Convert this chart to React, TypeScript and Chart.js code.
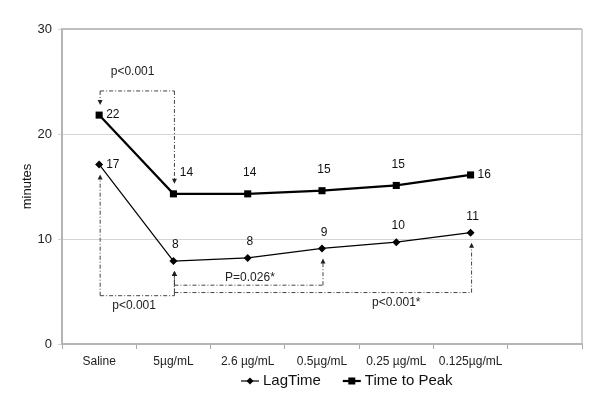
import React, { useEffect, useRef } from 'react';
import { Chart, registerables } from 'chart.js';

Chart.register(...registerables);

const FONT = '"Liberation Sans", Arial, sans-serif';

const categories = ['Saline', '5µg/mL', '2.6 µg/mL', '0.5µg/mL', '0.25 µg/mL', '0.125µg/mL', ''];
const lagTime: (number | null)[] = [17.1, 7.9, 8.2, 9.1, 9.7, 10.6, null];
const timeToPeak: (number | null)[] = [21.8, 14.3, 14.3, 14.6, 15.1, 16.1, null];
const yTicks = [0, 10, 20, 30];
const seriesNames = ['LagTime', 'Time to Peak'];
const yTitle = 'minutes';

// significance brackets
const bracketLabels = ['p<0.001', 'p<0.001', 'P=0.026*', 'p<0.001*'];
const bracketFrom = [0, 0, 1, 1];
const bracketTo = [1, 1, 3, 5];
const bracketLevel = [24.1, 4.6, 5.6, 4.9];
const bracketSeries = [1, 0, 0, 0];
const bracketLabelAt = [0.45, 0.47, 2.03, 4.0];
const bracketLabelSide = ['above', 'below', 'above', 'below'];

// data label placement
const lagPlace = ['right', 'above', 'above', 'above', 'above', 'above'];
const ttpPlace = ['right', 'aboveRight', 'above', 'above', 'above', 'right'];

function arrowHead(ctx: CanvasRenderingContext2D, x: number, y: number, dir: number) {
  // dir: 1 = pointing down, -1 = pointing up
  ctx.beginPath();
  ctx.moveTo(x, y);
  ctx.lineTo(x - 2.5, y - dir * 5);
  ctx.lineTo(x + 2.5, y - dir * 5);
  ctx.closePath();
  ctx.fill();
}

const overlay = {
  id: 'overlay',
  beforeDatasetsDraw(chart: any) {
    const ctx: CanvasRenderingContext2D = chart.ctx;
    const a = chart.chartArea;
    const xs = chart.scales.x;
    const ys = chart.scales.y;
    ctx.save();
    // top and right frame
    ctx.strokeStyle = '#c0c0c0';
    ctx.lineWidth = 2;
    ctx.beginPath();
    ctx.moveTo(a.left, a.top);
    ctx.lineTo(a.right, a.top);
    ctx.stroke();
    ctx.lineWidth = 1.5;
    ctx.beginPath();
    ctx.moveTo(a.right, a.top);
    ctx.lineTo(a.right, a.bottom);
    ctx.stroke();

    // brackets
    const series = [lagTime, timeToPeak];
    ctx.strokeStyle = '#444';
    ctx.fillStyle = '#222';
    ctx.lineWidth = 1;
    for (let i = 0; i < bracketLabels.length; i++) {
      const yl = ys.getPixelForValue(bracketLevel[i]);
      const data = series[bracketSeries[i]];
      const ends = [bracketFrom[i], bracketTo[i]];
      ctx.setLineDash([4, 2, 1, 2]);
      ctx.beginPath();
      const x1 = xs.getPixelForValue(ends[0]) + 1;
      const x2 = xs.getPixelForValue(ends[1]) + 1;
      ctx.moveTo(x1, yl);
      ctx.lineTo(x2, yl);
      ctx.stroke();
      for (const e of ends) {
        const x = xs.getPixelForValue(e) + 1;
        const py = ys.getPixelForValue(data[e] as number);
        const dir = yl < py ? 1 : -1;
        const tip = py - dir * 10;
        ctx.setLineDash([4, 2, 1, 2]);
        ctx.beginPath();
        ctx.moveTo(x, yl);
        ctx.lineTo(x, tip - dir * 4);
        ctx.stroke();
        ctx.setLineDash([]);
        arrowHead(ctx, x, tip, dir);
      }
      ctx.setLineDash([]);
      ctx.font = `12px ${FONT}`;
      ctx.textAlign = 'center';
      ctx.textBaseline = 'middle';
      const lx = xs.getPixelForValue(bracketLabelAt[i]);
      const ly = bracketLabelSide[i] === 'above' ? yl - (bracketLevel[i] > 15 ? 19 : 8) : yl + 10;
      ctx.fillText(bracketLabels[i], lx, ly);
    }
    ctx.restore();
  },
  afterDraw(chart: any) {
    const ctx: CanvasRenderingContext2D = chart.ctx;
    const a = chart.chartArea;
    const xs = chart.scales.x;
    const ys = chart.scales.y;
    ctx.save();
    ctx.fillStyle = '#111';
    ctx.font = `12px ${FONT}`;
    const drawLabels = (data: (number | null)[], place: string[], up: number) => {
      data.forEach((v, i) => {
        if (v == null) return;
        const x = xs.getPixelForValue(i);
        const y = ys.getPixelForValue(v);
        const txt = String(Math.round(v));
        ctx.textBaseline = 'middle';
        if (place[i] === 'right') {
          ctx.textAlign = 'left';
          ctx.fillText(txt, x + 7, y);
        } else if (place[i] === 'aboveRight') {
          ctx.textAlign = 'center';
          ctx.fillText(txt, x + 13, y - up);
        } else {
          ctx.textAlign = 'center';
          ctx.fillText(txt, x + 2, y - up);
        }
      });
    };
    drawLabels(lagTime, lagPlace, 16);
    drawLabels(timeToPeak, ttpPlace, 21);

    // y title
    ctx.save();
    ctx.translate(27, (a.top + a.bottom) / 2);
    ctx.rotate(-Math.PI / 2);
    ctx.textAlign = 'center';
    ctx.textBaseline = 'middle';
    ctx.font = `13px ${FONT}`;
    ctx.fillStyle = '#111';
    ctx.fillText(yTitle, 0, 0);
    ctx.restore();

    // legend
    ctx.font = `15px ${FONT}`;
    ctx.textAlign = 'left';
    ctx.textBaseline = 'middle';
    const ly = 381;
    let lx = 241;
    const styles = ['rectRot', 'rect'];
    const widths = [1.2, 2.2];
    seriesNames.forEach((name, i) => {
      ctx.strokeStyle = '#000';
      ctx.fillStyle = '#000';
      ctx.lineWidth = widths[i];
      ctx.beginPath();
      ctx.moveTo(lx, ly);
      ctx.lineTo(lx + 18, ly);
      ctx.stroke();
      if (styles[i] === 'rect') {
        ctx.fillRect(lx + 9 - 3.5, ly - 3.5, 7, 7);
      } else {
        ctx.beginPath();
        ctx.moveTo(lx + 9, ly - 3.5);
        ctx.lineTo(lx + 12.5, ly);
        ctx.lineTo(lx + 9, ly + 3.5);
        ctx.lineTo(lx + 5.5, ly);
        ctx.closePath();
        ctx.fill();
      }
      ctx.fillStyle = '#111';
      ctx.fillText(name, lx + 22, ly);
      lx += 22 + ctx.measureText(name).width + 22;
    });
    ctx.restore();
  },
};

export default function App() {
  const ref = useRef<HTMLCanvasElement>(null);
  useEffect(() => {
    document.body.style.margin = '0';
    const chart = new Chart(ref.current as HTMLCanvasElement, {
      type: 'line',
      data: {
        labels: categories,
        datasets: [
          {
            label: seriesNames[0],
            data: lagTime,
            borderColor: '#000',
            backgroundColor: '#000',
            borderWidth: 1.2,
            pointStyle: 'rectRot',
            pointRadius: 4,
            pointBorderWidth: 0,
            tension: 0,
          },
          {
            label: seriesNames[1],
            data: timeToPeak,
            borderColor: '#000',
            backgroundColor: '#000',
            borderWidth: 2.2,
            pointStyle: 'rect',
            pointRadius: 5,
            pointBorderWidth: 0,
            tension: 0,
          },
        ],
      },
      options: {
        responsive: false,
        animation: false,
        devicePixelRatio: 1,
        layout: { padding: { top: 29, right: 18, left: 0, bottom: 0 } },
        plugins: { legend: { display: false }, tooltip: { enabled: false } },
        scales: {
          x: {
            type: 'category',
            offset: true,
            grid: { offset: true, drawOnChartArea: false, tickLength: 5, color: '#a8a8a8' },
            border: { color: '#b4b4b4', width: 2 },
            ticks: { font: { size: 12, family: FONT }, color: '#222', padding: 5, maxRotation: 0, autoSkip: false },
            afterFit: (s: any) => { s.height = 60; },
          },
          y: {
            min: 0,
            max: 30,
            afterBuildTicks: (s: any) => { s.ticks = yTicks.map((v) => ({ value: v })); },
            grid: { color: '#d4d4d4', tickLength: 4 },
            border: { color: '#b4b4b4', width: 2 },
            ticks: { font: { size: 13, family: FONT }, color: '#222', padding: 6 },
            afterFit: (s: any) => { s.width = 62; },
          },
        },
      } as any,
      plugins: [overlay],
    });
    return () => chart.destroy();
  }, []);
  return (
    <div style={{ width: 600, height: 404, background: '#fff' }}>
      <canvas ref={ref} width={600} height={404} style={{ display: 'block' }} />
    </div>
  );
}
